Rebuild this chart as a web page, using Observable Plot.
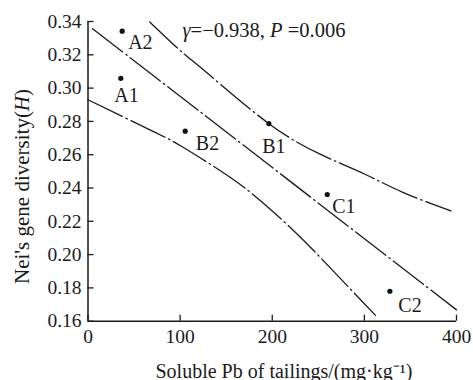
<!DOCTYPE html>
<html><head><meta charset="utf-8">
<script src="https://cdn.jsdelivr.net/npm/d3@7"></script>
<script src="https://cdn.jsdelivr.net/npm/@observablehq/plot@0.6"></script>
<style>
body{margin:0;background:#fff;}
#chart svg{display:block}
</style></head><body><div id="chart"></div>
<script>
// Sites and observed values
const sites = ["A1", "A2", "B1", "B2", "C1", "C2"];
const solublePb = [35.6, 37.1, 196.3, 105.5, 259.7, 327.7];
const diversity = [0.3059, 0.3342, 0.2787, 0.2741, 0.2361, 0.1780];

// Fitted regression line
const fitX = [5, 400];
const fitY = [0.3357, 0.1668];

// Confidence band curves
const lowerX = [0, 70, 100, 142, 178, 223, 263, 312];
const lowerY = [0.2930, 0.2742, 0.2655, 0.2510, 0.2366, 0.2145, 0.1920, 0.1635];
const upperX = [67, 98, 131, 196, 252, 300, 343, 394];
const upperY = [0.3397, 0.3236, 0.3083, 0.2788, 0.2603, 0.2484, 0.2371, 0.2262];

// Ticks
const xTicks = [0, 100, 200, 300, 400];
const yTicks = [0.16, 0.18, 0.20, 0.22, 0.24, 0.26, 0.28, 0.30, 0.32, 0.34];

const annotation = "γ=−0.938, P =0.006";
const xLabel = "Soluble Pb of tailings/(mg·kg⁻¹)";
const yLabel = "Nei's gene diversity(H)";

// label placement (styling)
const labelOffset = {A1: [-6.6, 24], A2: [6, 18], B1: [-6.6, 29.7], B2: [10.6, 18.6], C1: [5, 18.3], C2: [8.4, 21]};

const points = sites.map((s, i) => ({site: s, x: solublePb[i], y: diversity[i]}));
const fit = fitX.map((x, i) => ({x, y: fitY[i]}));
const lower = lowerX.map((x, i) => ({x, y: lowerY[i]}));
const upper = upperX.map((x, i) => ({x, y: upperY[i]}));

const W = 473, H = 380, mL = 87.5, mR = 17, mT = 21, mB = 59.3;
const plotW = W - mL - mR, plotH = H - mT - mB;
const ink = "#1a1a1a";
const dash = "38,4,1.5,4";

const plot = Plot.plot({
  width: W, height: H,
  marginLeft: mL, marginRight: mR, marginTop: mT, marginBottom: mB,
  style: {fontFamily: "'Liberation Serif', 'Times New Roman', serif", fontSize: "19.5px", color: ink, background: "#fff", overflow: "visible"},
  x: {domain: [0, 400], ticks: xTicks, tickSize: 0, tickPadding: 8, tickFormat: d => String(d), label: null},
  y: {domain: [0.16, 0.34], ticks: yTicks, tickSize: 0, tickPadding: 6.5, tickFormat: d3.format(".2f"), label: null},
  marks: [
    Plot.line(lower, {x: "x", y: "y", curve: "natural", stroke: ink, strokeWidth: 1.3, strokeDasharray: dash}),
    Plot.line(upper, {x: "x", y: "y", curve: "natural", stroke: ink, strokeWidth: 1.3, strokeDasharray: dash}),
    Plot.line(fit, {x: "x", y: "y", stroke: ink, strokeWidth: 1.3, strokeDasharray: dash}),
    Plot.ruleX([0], {stroke: ink, strokeWidth: 1.5}),
    Plot.ruleY([0.16], {stroke: ink, strokeWidth: 1.5}),
    Plot.tickX(xTicks, {x: d => d, insetTop: plotH - 6, stroke: ink, strokeWidth: 1.3}),
    Plot.tickY(yTicks, {y: d => d, insetRight: plotW - 6, stroke: ink, strokeWidth: 1.3}),
    Plot.dot(points, {x: "x", y: "y", r: 2.6, fill: "#111", stroke: null}),
    ...points.map(p => Plot.text([p], {x: "x", y: "y", text: "site", textAnchor: "start", lineAnchor: "bottom",
      dx: labelOffset[p.site][0], dy: labelOffset[p.site][1], fontSize: 20, fill: ink})),
    Plot.text([annotation], {frameAnchor: "top-left", text: d => d, dx: 94.5, dy: 15, textAnchor: "start", lineAnchor: "bottom", fontSize: 20.5, fill: ink}),
    Plot.text([xLabel], {frameAnchor: "bottom-left", text: d => d, dx: 67.5, dy: 56.3, textAnchor: "start", lineAnchor: "bottom", fontSize: 20, fill: ink}),
    Plot.text([yLabel], {frameAnchor: "left", text: d => d, rotate: -90, dx: 28 - mL, dy: 186 - (mT + plotH / 2), textAnchor: "middle", lineAnchor: "bottom", fontSize: 21, fill: ink})
  ]
});

function styleRuns(svg, full, runs) {
  d3.select(svg).selectAll("text").filter(function () { return this.textContent === full; }).each(function () {
    const t = d3.select(this);
    t.text(null);
    runs.forEach(([s, it]) => t.append("tspan").attr("font-style", it ? "italic" : null).text(s));
  });
}
styleRuns(plot, annotation, [["γ", true], ["=−0.938, ", false], ["P", true], [" =0.006", false]]);
styleRuns(plot, yLabel, [["Nei's gene diversity(", false], ["H", true], [")", false]]);

document.getElementById("chart").appendChild(plot);
</script></body></html>
